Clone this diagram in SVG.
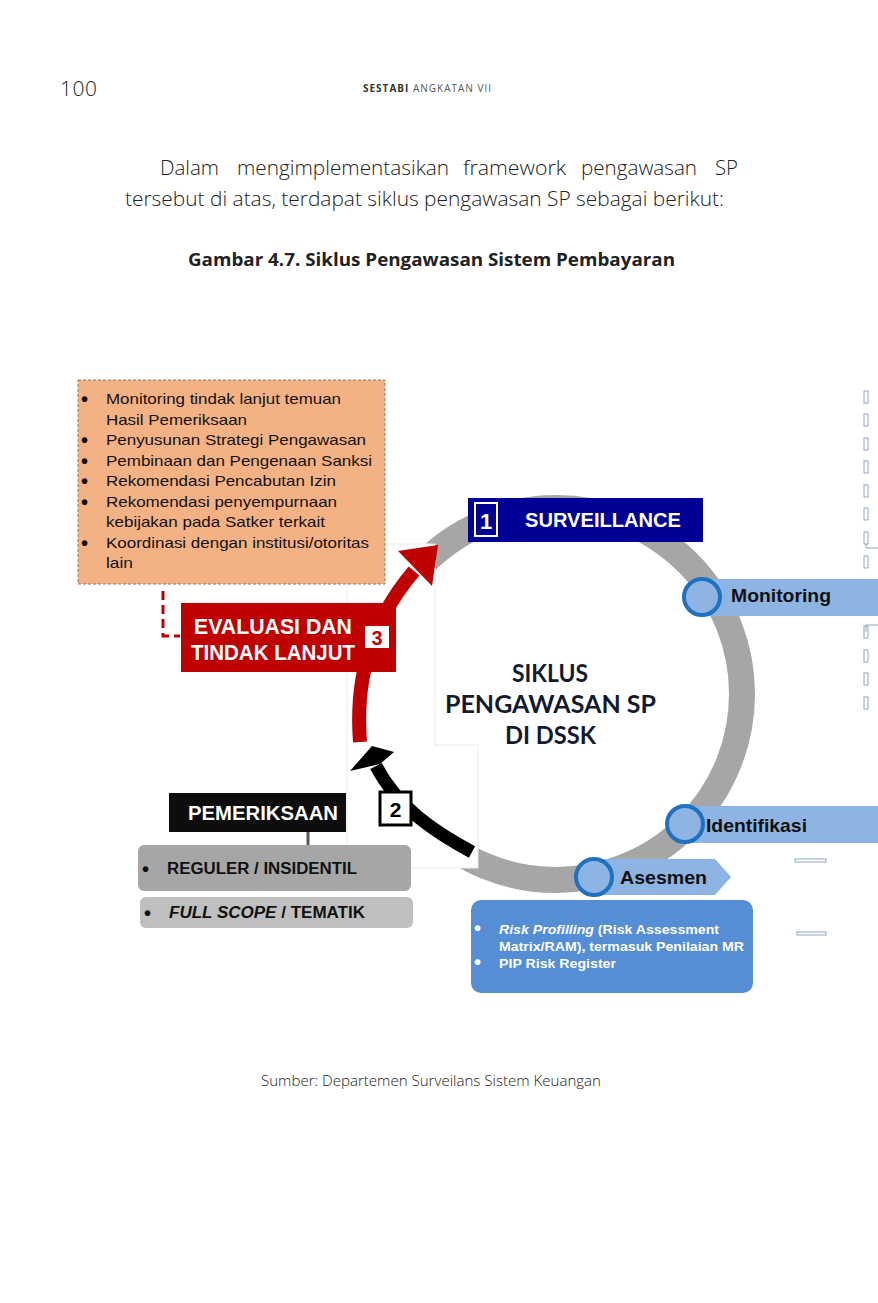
<svg xmlns="http://www.w3.org/2000/svg" width="878" height="1303" viewBox="0 0 878 1303">
<defs>
<style>
.page{font-family:"Open Sans","Liberation Sans",sans-serif;fill:#222}
.ar{font-family:"Liberation Sans",Arial,sans-serif}
.bul{font-family:"Liberation Sans",Arial,sans-serif;font-size:20px;font-weight:bold}
.disp{font-family:"Liberation Sans Narrow","Liberation Sans",Arial,sans-serif;font-weight:bold;fill:#fff}
.geo{font-family:Lato,"Open Sans",sans-serif;font-weight:bold;fill:#141a2e}
.lbl{font-family:"Liberation Sans",Arial,sans-serif;font-weight:bold;fill:#111;font-size:19px}
.bar{fill:#8DB4E2}
.dot{fill:#8DB4E2;stroke:#1F72C0;stroke-width:4}
.tick{fill:none;stroke:#8EA6C6;stroke-width:1}
.wht{fill:#fff;stroke:#ececec;stroke-width:1}
</style>
</defs>
<rect width="878" height="1303" fill="#fff"/>

<g id="header">
<text class="page" x="60" y="96" font-size="21" font-weight="300" textLength="37">100</text>
<text class="page" x="363" y="92" font-size="10" letter-spacing="1"><tspan font-weight="bold" fill="#333">SESTABI</tspan><tspan fill="#555"> ANGKATAN VII</tspan></text>
</g>

<g id="paragraph" class="page" font-size="21" font-weight="300">
<text x="160" y="175" textLength="59" lengthAdjust="spacingAndGlyphs">Dalam</text>
<text x="237" y="175" textLength="212" lengthAdjust="spacingAndGlyphs">mengimplementasikan</text>
<text x="463" y="175" textLength="103" lengthAdjust="spacingAndGlyphs">framework</text>
<text x="581" y="175" textLength="116" lengthAdjust="spacingAndGlyphs">pengawasan</text>
<text x="715" y="175" textLength="23" lengthAdjust="spacingAndGlyphs">SP</text>
<text x="125" y="206" textLength="599" lengthAdjust="spacingAndGlyphs">tersebut di atas, terdapat siklus pengawasan SP sebagai berikut:</text>
</g>

<g id="caption">
<text class="page" x="188" y="266" font-size="18" font-weight="bold" textLength="487" lengthAdjust="spacingAndGlyphs">Gambar 4.7. Siklus Pengawasan Sistem Pembayaran</text>
</g>

<g id="ring">
<circle cx="556" cy="694" r="186" fill="none" stroke="#A6A6A6" stroke-width="26"/>
</g>

<g id="masks">
<rect class="wht" x="347" y="544" width="88" height="201"/>
<rect class="wht" x="347" y="745" width="131" height="123"/>
<rect x="348" y="545" width="86" height="322" fill="#fff"/>
</g>

<g id="center-title">
<text class="geo" x="512" y="682" font-size="24" textLength="76" lengthAdjust="spacingAndGlyphs">SIKLUS</text>
<text class="geo" x="445" y="713" font-size="24" textLength="211" lengthAdjust="spacingAndGlyphs">PENGAWASAN SP</text>
<text class="geo" x="505" y="744" font-size="24" textLength="91" lengthAdjust="spacingAndGlyphs">DI DSSK</text>
</g>

<g id="orange-box">
<rect x="78" y="380" width="307" height="204" fill="#F4B183" stroke="#7f7f7f" stroke-width="1" stroke-dasharray="3 2"/>
<g class="bul" fill="#111">
<text x="81" y="406">•</text><text x="81" y="447">•</text><text x="81" y="468">•</text><text x="81" y="488">•</text><text x="81" y="509">•</text><text x="81" y="550">•</text>
</g>
<g class="ar" font-size="15" fill="#111">
<text x="106" y="404" textLength="235" lengthAdjust="spacingAndGlyphs">Monitoring tindak lanjut temuan</text>
<text x="106" y="425" textLength="141" lengthAdjust="spacingAndGlyphs">Hasil Pemeriksaan</text>
<text x="106" y="445" textLength="260" lengthAdjust="spacingAndGlyphs">Penyusunan Strategi Pengawasan</text>
<text x="106" y="466" textLength="266" lengthAdjust="spacingAndGlyphs">Pembinaan dan Pengenaan Sanksi</text>
<text x="106" y="486" textLength="230" lengthAdjust="spacingAndGlyphs">Rekomendasi Pencabutan Izin</text>
<text x="106" y="507" textLength="231" lengthAdjust="spacingAndGlyphs">Rekomendasi penyempurnaan</text>
<text x="106" y="527" textLength="219" lengthAdjust="spacingAndGlyphs">kebijakan pada Satker terkait</text>
<text x="106" y="548" textLength="263" lengthAdjust="spacingAndGlyphs">Koordinasi dengan institusi/otoritas</text>
<text x="106" y="568" textLength="27" lengthAdjust="spacingAndGlyphs">lain</text>
</g>
</g>

<g id="connectors">
<path d="M163 591 V636 H180" fill="none" stroke="#C00000" stroke-width="3" stroke-dasharray="9 5"/>
<line x1="308" y1="832" x2="308" y2="846" stroke="#595959" stroke-width="3"/>
<path d="M360 742 C356 690 364 630 414 571" fill="none" stroke="#C00000" stroke-width="14"/>
<polygon points="438,545 398,551 432,586" fill="#C00000"/>
<path d="M472 852 C435 832 398 808 376 766" fill="none" stroke="#000" stroke-width="13"/>
<polygon points="372,746 394,752 380,764 350,771" fill="#000"/>
</g>

<g id="evaluasi">
<rect x="181" y="603" width="215" height="69" fill="#C00000"/>
<text class="disp" x="194" y="634" font-size="22" textLength="158" lengthAdjust="spacingAndGlyphs">EVALUASI DAN</text>
<text class="disp" x="191" y="660" font-size="22" textLength="164" lengthAdjust="spacingAndGlyphs">TINDAK LANJUT</text>
<rect x="365" y="626" width="24" height="22" fill="#fff"/>
<text class="ar" x="377" y="645" font-size="20" font-weight="bold" fill="#C00000" text-anchor="middle">3</text>
</g>

<g id="surveillance">
<rect x="468" y="498" width="235" height="44" fill="#000096"/>
<rect x="475" y="503" width="22" height="33" fill="none" stroke="#fff" stroke-width="2"/>
<text class="disp" x="486" y="529" font-size="22" text-anchor="middle">1</text>
<text class="disp" x="525" y="527" font-size="21" textLength="156" lengthAdjust="spacingAndGlyphs">SURVEILLANCE</text>
</g>

<g id="monitoring">
<rect class="bar" x="700" y="579" width="178" height="37"/>
<circle class="dot" cx="702" cy="597" r="18"/>
<text class="lbl" x="731" y="602" textLength="100" lengthAdjust="spacingAndGlyphs">Monitoring</text>
</g>

<g id="identifikasi">
<rect class="bar" x="685" y="806" width="193" height="37"/>
<circle class="dot" cx="685" cy="824" r="18"/>
<text class="lbl" x="706" y="832" textLength="101" lengthAdjust="spacingAndGlyphs">Identifikasi</text>
</g>

<g id="asesmen">
<polygon class="bar" points="594,859 715,859 731,877 715,895 594,895"/>
<circle class="dot" cx="594" cy="877" r="18"/>
<text class="lbl" x="620" y="884" textLength="87" lengthAdjust="spacingAndGlyphs">Asesmen</text>
</g>

<g id="asesmen-detail">
<rect x="471" y="900" width="282" height="93" rx="10" fill="#558ED5"/>
<g class="bul" fill="#fff" font-size="16px">
<text x="474" y="935">•</text><text x="474" y="969">•</text>
</g>
<g class="ar" font-size="13" font-weight="bold" fill="#fff">
<text x="499" y="934" textLength="220" lengthAdjust="spacingAndGlyphs"><tspan font-style="italic">Risk Profilling</tspan> (Risk Assessment</text>
<text x="499" y="951" textLength="245" lengthAdjust="spacingAndGlyphs">Matrix/RAM), termasuk Penilaian MR</text>
<text x="499" y="968" textLength="117" lengthAdjust="spacingAndGlyphs">PIP Risk Register</text>
</g>
</g>

<g id="pemeriksaan">
<rect x="169" y="793" width="177" height="39" fill="#0d0d0d"/>
<text class="disp" x="188" y="820" font-size="21" textLength="150" lengthAdjust="spacingAndGlyphs">PEMERIKSAAN</text>
</g>

<g id="reguler">
<rect x="138" y="845" width="273" height="46" rx="6" fill="#A6A6A6"/>
<text class="bul" x="142" y="876" fill="#111">•</text>
<text class="ar" x="167" y="874" font-size="16" font-weight="bold" fill="#111" textLength="190" lengthAdjust="spacingAndGlyphs">REGULER / INSIDENTIL</text>
</g>

<g id="fullscope">
<rect x="140" y="897" width="273" height="31" rx="6" fill="#BFBFBF"/>
<text class="bul" x="144" y="920" fill="#111">•</text>
<text class="ar" x="169" y="918" font-size="16" font-weight="bold" fill="#111" textLength="196" lengthAdjust="spacingAndGlyphs"><tspan font-style="italic">FULL SCOPE</tspan> / TEMATIK</text>
</g>

<g id="step2">
<rect x="380" y="792" width="31" height="33" fill="#fff" stroke="#000" stroke-width="3"/>
<text class="ar" x="395.5" y="817" font-size="21" font-weight="bold" fill="#000" text-anchor="middle">2</text>
</g>

<g id="edge-marks">
<rect class="tick" x="864" y="391" width="4" height="12"/>
<rect class="tick" x="864" y="414" width="4" height="12"/>
<rect class="tick" x="864" y="438" width="4" height="12"/>
<rect class="tick" x="864" y="461" width="4" height="12"/>
<rect class="tick" x="864" y="485" width="4" height="12"/>
<rect class="tick" x="864" y="508" width="4" height="12"/>
<rect class="tick" x="864" y="532" width="4" height="12"/>
<path class="tick" d="M866 544 V548 H878"/>
<rect class="tick" x="864" y="556" width="4" height="12"/>
<path class="tick" d="M866 632 V625 H878"/>
<rect class="tick" x="864" y="626" width="4" height="12"/>
<rect class="tick" x="864" y="650" width="4" height="12"/>
<rect class="tick" x="864" y="673" width="4" height="12"/>
<rect class="tick" x="864" y="697" width="4" height="12"/>
<rect class="tick" x="795" y="859" width="31" height="3"/>
<rect class="tick" x="797" y="932" width="29" height="3"/>
</g>

<g id="source">
<text class="page" x="261" y="1086" font-size="14" font-weight="300" textLength="340" lengthAdjust="spacingAndGlyphs">Sumber: Departemen Surveilans Sistem Keuangan</text>
</g>
</svg>
